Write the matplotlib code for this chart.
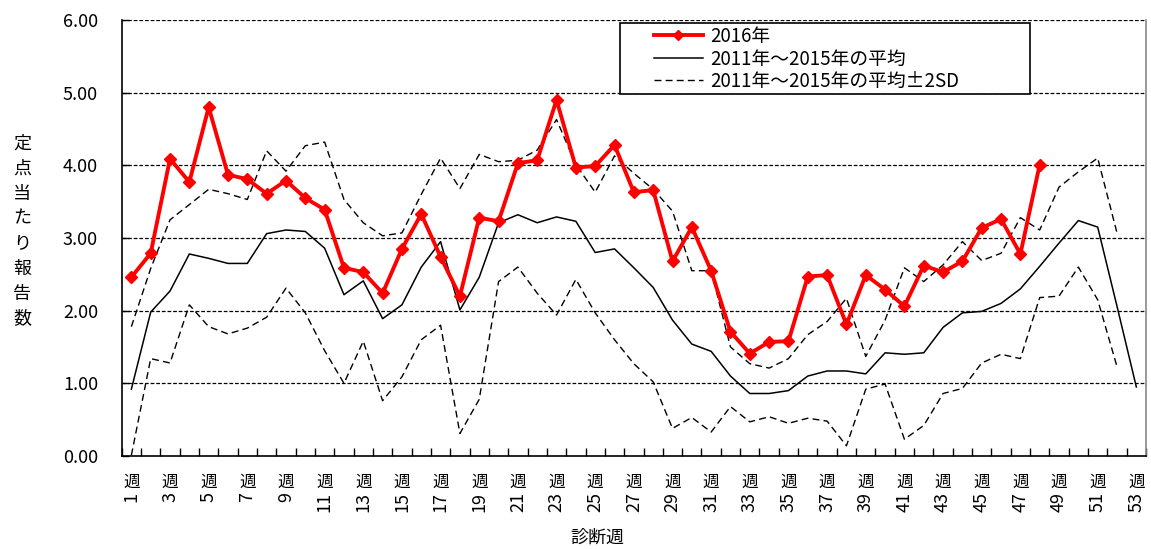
import numpy as np
import matplotlib
matplotlib.use("Agg")
import matplotlib.pyplot as plt
from matplotlib.patches import Rectangle
from matplotlib.lines import Line2D

plt.rcParams['font.family'] = ['Noto Sans CJK JP', 'DejaVu Sans']

# ---- data ----
weeks = list(range(1, 54))
week_labels = [f"{w}" for w in weeks]

y2016 = [2.46, 2.79, 4.09, 3.77, 4.80, 3.87, 3.81, 3.61, 3.79, 3.55,
         3.39, 2.59, 2.53, 2.24, 2.85, 3.33, 2.74, 2.20, 3.28, 3.23,
         4.03, 4.07, 4.90, 3.97, 3.99, 4.28, 3.63, 3.66, 2.68, 3.15,
         2.55, 1.71, 1.41, 1.57, 1.58, 2.47, 2.49, 1.81, 2.49, 2.29,
         2.06, 2.62, 2.53, 2.68, 3.14, 3.26, 2.78, 4.01]

mean_11_15 = [0.92, 1.98, 2.27, 2.78, 2.72, 2.65, 2.65, 3.06, 3.11, 3.09,
              2.86, 2.22, 2.41, 1.89, 2.08, 2.60, 2.95, 2.01, 2.46, 3.21,
              3.32, 3.21, 3.29, 3.23, 2.80, 2.85, 2.59, 2.32, 1.87, 1.54,
              1.44, 1.10, 0.86, 0.86, 0.90, 1.10, 1.17, 1.17, 1.13, 1.42,
              1.40, 1.42, 1.77, 1.97, 1.99, 2.10, 2.30, 2.61, 2.93, 3.24,
              3.15, 2.06, 0.95]

upper_2sd = [1.78, 2.58, 3.25, 3.46, 3.67, 3.61, 3.53, 4.20, 3.92, 4.27,
             4.32, 3.53, 3.21, 3.03, 3.07, 3.60, 4.10, 3.68, 4.15, 4.05,
             4.07, 4.21, 4.63, 4.01, 3.63, 4.13, 3.89, 3.67, 3.37, 2.55,
             2.55, 1.50, 1.27, 1.21, 1.34, 1.67, 1.85, 2.17, 1.37, 1.87,
             2.59, 2.40, 2.63, 2.95, 2.69, 2.79, 3.28, 3.11, 3.70, 3.91,
             4.10, 3.07, np.nan]

lower_2sd = [0.01, 1.34, 1.28, 2.08, 1.78, 1.68, 1.76, 1.91, 2.31, 1.97,
             1.45, 1.00, 1.58, 0.76, 1.09, 1.60, 1.80, 0.31, 0.78, 2.40,
             2.60, 2.24, 1.94, 2.43, 1.97, 1.60, 1.27, 1.02, 0.38, 0.53,
             0.33, 0.68, 0.47, 0.54, 0.45, 0.52, 0.48, 0.14, 0.92, 0.99,
             0.23, 0.42, 0.86, 0.93, 1.28, 1.40, 1.34, 2.18, 2.20, 2.60,
             2.15, 1.23, np.nan]

yticks = [0, 1, 2, 3, 4, 5, 6]
legend_labels = ["2016年", "2011年～2015年の平均", "2011年～2015年の平均±2SD"]

# ---- figure ----
W, H = 1151, 549
fig = plt.figure(figsize=(W / 100, H / 100), dpi=100)
x0, x1, ytop, ybot = 121.7, 1146.0, 20.0, 456.0
ax = fig.add_axes([x0 / W, (H - ybot) / H, (x1 - x0) / W, (ybot - ytop) / H])

dash_grid = (0, (3, 1.5))
for v in yticks[1:]:
    ax.axhline(v, color='black', lw=0.9, ls=dash_grid, zorder=1)

ax.plot(weeks, upper_2sd, color='black', lw=1.0, ls=(0, (5, 3)), zorder=2)
ax.plot(weeks, lower_2sd, color='black', lw=1.0, ls=(0, (5, 3)), zorder=2)
ax.plot(weeks, mean_11_15, color='black', lw=1.1, zorder=3)
ax.plot(weeks[:len(y2016)], y2016, color='#FF0000', lw=2.8, marker='D',
        ms=6, mec='#FF0000', mfc='#FF0000', zorder=4)

ax.set_xlim(0.5, 53.5)
ax.set_ylim(0, 6)
ax.set_yticks(yticks)
ax.set_yticklabels([f"{v:.2f}" for v in yticks])
ax.set_xticks(np.arange(0.5, 54.0, 1.0))
ax.tick_params(axis='x', direction='in', length=6, width=1, labelbottom=False)
ax.tick_params(axis='y', direction='in', length=5, width=1, pad=17, labelsize=13)
ax.spines['top'].set_visible(False)
for s in ['left', 'bottom', 'right']:
    ax.spines[s].set_linewidth(1.2)
ax.spines['right'].set_color('#888888')

# x tick labels: 週 upright above, digits rotated below
for w, lab in zip(weeks, week_labels):
    if w % 2 == 0:
        continue
    ax.annotate('週', xy=(w, 0), xycoords=('data', 'axes fraction'),
                xytext=(0, -12.5), textcoords='offset points',
                ha='center', va='top', fontsize=12)
    ax.annotate(lab, xy=(w, 0), xycoords=('data', 'axes fraction'),
                xytext=(0, -26), textcoords='offset points',
                ha='center', va='top', rotation=90, fontsize=13)

# axis titles
fig.text(22 / W, 1 - 231 / H, '\n'.join('定点当たり報告数'), ha='center',
         va='center', fontsize=13, linespacing=1.5)
fig.text(597 / W, 1 - 538 / H, '診断週', ha='center', va='center', fontsize=13)

# legend box
fig.patches.append(Rectangle((620 / W, (H - 94) / H), 410 / W, 71 / H,
                             transform=fig.transFigure, facecolor='white',
                             edgecolor='black', lw=1.2, zorder=4))
handles = [Line2D([], [], color='#FF0000', lw=2.8, marker='D', ms=5),
           Line2D([], [], color='black', lw=1.1),
           Line2D([], [], color='black', lw=1.0, ls=(0, (5, 3)))]
fig.legend(handles, legend_labels, loc='upper left',
           bbox_to_anchor=(654 / W, 1 - 26 / H), frameon=False, fontsize=13.5,
           handlelength=2.6, handletextpad=0.4, labelspacing=0.08,
           borderpad=0, borderaxespad=0)

fig.savefig('out.png', dpi=100)
